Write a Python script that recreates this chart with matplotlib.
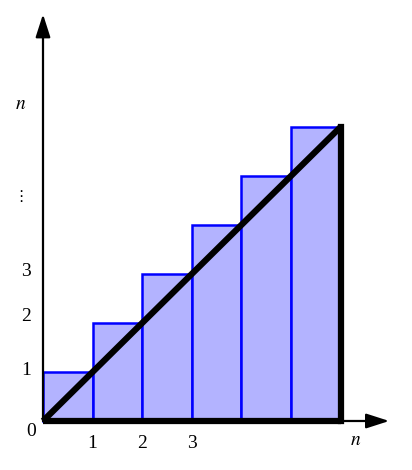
import matplotlib
matplotlib.use("Agg")
import matplotlib.pyplot as plt

# Data
bar_left = [0, 1, 2, 3, 4, 5]
bar_heights = [1, 2, 3, 4, 5, 6]
diag_x = [0, 6]
diag_y = [0, 6]
xtick_pos = [1, 2, 3]
xtick_labels = ["1", "2", "3"]
ytick_pos = [1.04, 2.14, 3.06, 4.59, 6.45]
ytick_labels = ["1", "2", "3", "\u22ee", "$n$"]

plt.rcParams['font.family'] = ['Liberation Serif', 'DejaVu Serif', 'DejaVu Sans']
plt.rcParams['mathtext.fontset'] = 'stix'

fig = plt.figure(figsize=(4.12, 4.70), dpi=100)
ax = fig.add_axes([0, 0, 1, 1])
ax.set_xlim(-0.867, 7.44)
ax.set_ylim(-1.0, 8.59)
ax.axis('off')

ax.bar(bar_left, bar_heights, width=1, align='edge', color='#b3b3ff',
       edgecolor='#0000ff', linewidth=1.8, zorder=2)

# diagonal
ax.plot(diag_x, diag_y, color='black', lw=4.5, solid_capstyle='butt', zorder=4)
# right vertical edge
ax.plot([6, 6], [0, 6], color='black', lw=4.5, solid_capstyle='projecting', zorder=4)
# bottom thick edge
ax.plot([0, 6], [0, 0], color='black', lw=4.5, solid_capstyle='butt', zorder=4)

# axes arrows
ax.annotate('', xy=(6.98, 0), xytext=(0, 0),
            arrowprops=dict(arrowstyle='-|>,head_length=1.4,head_width=0.45',
                            color='black', lw=1.6, shrinkA=0, shrinkB=0), zorder=3)
ax.annotate('', xy=(0, 8.3), xytext=(0, 0),
            arrowprops=dict(arrowstyle='-|>,head_length=1.4,head_width=0.45',
                            color='black', lw=1.6, shrinkA=0, shrinkB=0), zorder=3)

fs = 14
for p, l in zip(xtick_pos, xtick_labels):
    ax.text(p, -0.45, l, ha='center', va='center', fontsize=fs)
for p, l in zip(ytick_pos, ytick_labels):
    if l == "\u22ee":
        ax.text(-0.44, p, l, ha='center', va='center', fontsize=11,
                family=['DejaVu Sans'])
    elif l == "$n$":
        ax.text(-0.46, p, l, ha='center', va='center', fontsize=fs)
    else:
        ax.text(-0.34, p, l, ha='center', va='center', fontsize=fs)
ax.text(-0.24, -0.22, "0", ha='center', va='center', fontsize=fs)
ax.text(6.31, -0.39, "$n$", ha='center', va='center', fontsize=fs)

fig.savefig("out.png", dpi=100)
